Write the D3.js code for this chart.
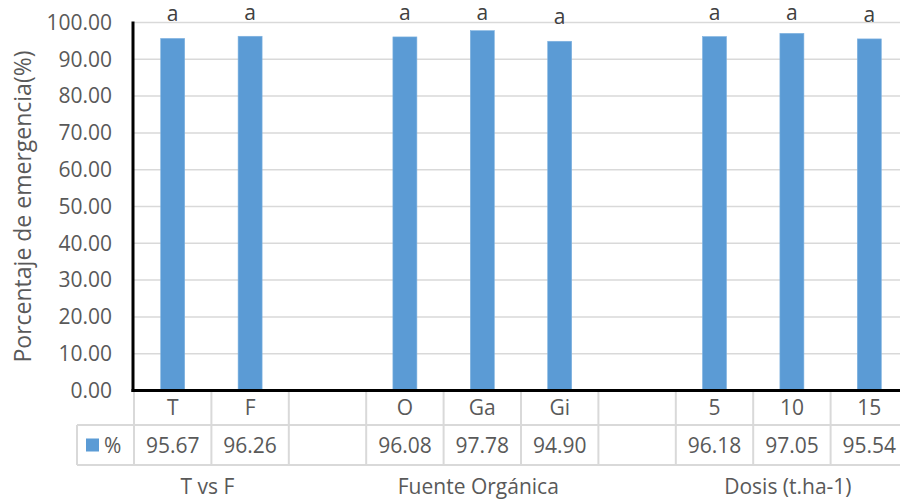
<!DOCTYPE html>
<html>
<head>
<meta charset="utf-8">
<script src="https://cdn.jsdelivr.net/npm/d3@7"></script>
<style>
  html, body { margin: 0; padding: 0; background: #fff; }
  svg { display: block; font-family: "Open Sans", sans-serif; }
</style>
</head>
<body>
<svg id="chart" width="900" height="502"></svg>
<script>
// Categories along the x axis (empty strings are spacer columns between groups)
const categories = ["T", "F", "", "O", "Ga", "Gi", "", "5", "10", "15"];
// Percentage of emergence for each category (null for spacer columns)
const values = [95.67, 96.26, null, 96.08, 97.78, 94.90, null, 96.18, 97.05, 95.54];
// Significance letters above the bars
const letters = ["a", "a", "", "a", "a", "a", "", "a", "a", "a"];
// Group labels and the categories they span
const groups = [
  { label: "T vs F", from: 0, to: 1 },
  { label: "Fuente Orgánica", from: 3, to: 5 },
  { label: "Dosis (t.ha-1)", from: 7, to: 9 }
];
const yTicks = [0, 10, 20, 30, 40, 50, 60, 70, 80, 90, 100];
const seriesName = "%";
const yTitle = "Porcentaje de emergencia(%)";

const svg = d3.select("#chart");
const textColor = "#595959";
const gridColor = "#d9d9d9";
const barColor = "#5b9bd5";

const plotLeft = 134, plotTop = 22.5, plotBottom = 390.5;
const colW = 77.4;
const keys = categories.map((c, i) => i);

const x = d3.scaleBand().domain(keys).range([plotLeft, plotLeft + colW * categories.length]).padding(0);
const y = d3.scaleLinear().domain([0, 100]).range([plotBottom, plotTop]);

// Horizontal gridlines
svg.append("g")
  .selectAll("line")
  .data(yTicks.filter(t => t > 0))
  .join("line")
  .attr("x1", plotLeft).attr("x2", 900)
  .attr("y1", d => y(d)).attr("y2", d => y(d))
  .attr("stroke", gridColor).attr("stroke-width", 1.5);

// Y axis tick labels
const yAxis = d3.axisLeft(y).tickValues(yTicks).tickFormat(d3.format(".2f")).tickSize(0).tickPadding(22);
const gy = svg.append("g").attr("transform", `translate(${plotLeft},0)`).call(yAxis);
gy.select(".domain").remove();
gy.selectAll("text")
  .attr("fill", textColor)
  .style("font-size", "21px")
  .style("font-family", "'Open Sans', sans-serif");

// Y axis title
svg.append("text")
  .attr("transform", `translate(31,${(plotTop + plotBottom) / 2}) rotate(-90)`)
  .attr("text-anchor", "middle")
  .attr("fill", textColor)
  .style("font-size", "23px")
  .text(yTitle);

// Bars
const barW = x.bandwidth() * 0.31;
const barData = keys.filter(i => values[i] != null);
svg.append("g")
  .selectAll("rect")
  .data(barData)
  .join("rect")
  .attr("x", i => x(i) + x.bandwidth() / 2 - barW / 2)
  .attr("width", barW)
  .attr("y", i => y(values[i]))
  .attr("height", i => y(0) - y(values[i]))
  .attr("fill", barColor)
  .attr("stroke", "#7fb2e0")
  .attr("stroke-width", 0.6);

// Letters above bars
svg.append("g")
  .selectAll("text")
  .data(barData)
  .join("text")
  .attr("x", i => x(i) + x.bandwidth() / 2)
  .attr("y", i => Math.max(y(values[i]) - 17, 20))
  .attr("text-anchor", "middle")
  .attr("fill", "#404040")
  .style("font-size", "21px")
  .text(i => letters[i]);

// Axis lines
svg.append("line")
  .attr("x1", plotLeft - 1).attr("x2", plotLeft - 1)
  .attr("y1", plotTop - 1).attr("y2", plotBottom + 1.5)
  .attr("stroke", "#000").attr("stroke-width", 3);
svg.append("line")
  .attr("x1", plotLeft - 2.5).attr("x2", 900)
  .attr("y1", plotBottom).attr("y2", plotBottom)
  .attr("stroke", "#000").attr("stroke-width", 3);

// Data table beneath the axis
const row1Bottom = 425, row2Bottom = 465, legendLeft = 77;
const table = svg.append("g").attr("stroke", gridColor).attr("stroke-width", 2);
table.append("line").attr("x1", legendLeft).attr("x2", 900).attr("y1", row1Bottom).attr("y2", row1Bottom);
table.append("line").attr("x1", legendLeft).attr("x2", 900).attr("y1", row2Bottom).attr("y2", row2Bottom);
table.append("line").attr("x1", legendLeft).attr("x2", legendLeft).attr("y1", row1Bottom).attr("y2", row2Bottom);
table.selectAll("line.col")
  .data(keys.concat([categories.length]))
  .join("line")
  .attr("class", "col")
  .attr("x1", i => plotLeft + i * x.step()).attr("x2", i => plotLeft + i * x.step())
  .attr("y1", plotBottom + 1.5).attr("y2", row2Bottom);

// Category labels row
svg.append("g")
  .selectAll("text")
  .data(keys)
  .join("text")
  .attr("x", i => x(i) + x.bandwidth() / 2)
  .attr("y", 415)
  .attr("text-anchor", "middle")
  .attr("fill", textColor)
  .style("font-size", "21px")
  .text(i => categories[i]);

// Values row
svg.append("g")
  .selectAll("text")
  .data(barData)
  .join("text")
  .attr("x", i => x(i) + x.bandwidth() / 2)
  .attr("y", 453)
  .attr("text-anchor", "middle")
  .attr("fill", textColor)
  .style("font-size", "21px")
  .text(i => d3.format(".2f")(values[i]));

// Legend key in the table
svg.append("rect")
  .attr("x", 86).attr("y", 438.5).attr("width", 13).attr("height", 13)
  .attr("fill", barColor);
svg.append("text")
  .attr("x", 104).attr("y", 453)
  .attr("fill", textColor)
  .style("font-size", "21px")
  .text(seriesName);

// Group labels
svg.append("g")
  .selectAll("text")
  .data(groups)
  .join("text")
  .attr("x", g => (x(g.from) + x(g.to) + x.bandwidth()) / 2 - 4)
  .attr("y", 494)
  .attr("text-anchor", "middle")
  .attr("fill", textColor)
  .style("font-size", "21px")
  .text(g => g.label);
</script>
</body>
</html>
